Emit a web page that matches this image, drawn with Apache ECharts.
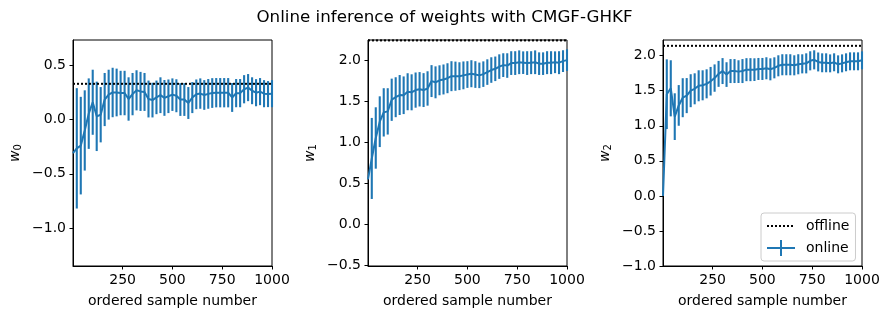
<!DOCTYPE html>
<html>
<head>
<meta charset="utf-8">
<script src="https://cdn.jsdelivr.net/npm/echarts@6/dist/echarts.min.js"></script>
<style>
  html, body { margin: 0; padding: 0; background: #fff; }
  #chart { width: 889px; height: 320px; }
</style>
</head>
<body>
<div id="chart"></div>
<script>
// 采样点（每20个样本一个误差棒）
const sampleNo = [20, 40, 60, 80, 100, 120, 140, 160, 180, 200,
  220, 240, 260, 280, 300, 320, 340, 360, 380, 400,
  420, 440, 460, 480, 500, 520, 540, 560, 580, 600,
  620, 640, 660, 680, 700, 720, 740, 760, 780, 800,
  820, 840, 860, 880, 900, 920, 940, 960, 980, 1000];

// 起点（第一个样本）
const firstSample = 1;
const startVals = [-0.31, 0.55, 0.0];

// w0
const w0Mean = [-0.265, -0.24, -0.10, 0.055, 0.16, 0.03, 0.045, 0.185, 0.23, 0.25,
  0.25, 0.245, 0.245, 0.19, 0.235, 0.27, 0.26, 0.255, 0.19, 0.18,
  0.205, 0.225, 0.20, 0.215, 0.23, 0.22, 0.185, 0.185, 0.153, 0.203,
  0.233, 0.24, 0.227, 0.237, 0.245, 0.248, 0.248, 0.248, 0.248, 0.204,
  0.244, 0.244, 0.28, 0.295, 0.266, 0.248, 0.258, 0.239, 0.235, 0.239];
const w0Err = [0.555, 0.45, 0.37, 0.325, 0.30, 0.32, 0.255, 0.245, 0.23, 0.228,
  0.22, 0.205, 0.205, 0.2, 0.195, 0.185, 0.18, 0.175, 0.17, 0.16,
  0.155, 0.165, 0.165, 0.155, 0.15, 0.152, 0.151, 0.151, 0.147, 0.143,
  0.137, 0.14, 0.137, 0.137, 0.137, 0.135, 0.135, 0.135, 0.135, 0.133,
  0.13, 0.13, 0.13, 0.125, 0.124, 0.125, 0.125, 0.125, 0.12, 0.125];

// w1
const w1Mean = [0.805, 1.055, 1.254, 1.368, 1.38, 1.522, 1.553, 1.58, 1.577, 1.62,
  1.613, 1.64, 1.65, 1.64, 1.66, 1.75, 1.735, 1.76, 1.77, 1.785,
  1.81, 1.81, 1.81, 1.82, 1.83, 1.84, 1.83, 1.82, 1.835, 1.86,
  1.885, 1.90, 1.927, 1.945, 1.94, 1.97, 1.97, 1.98, 1.975, 1.97,
  1.975, 1.98, 1.963, 1.963, 1.975, 1.975, 1.98, 1.975, 1.994, 2.006];
const w1Err = [0.495, 0.375, 0.31, 0.295, 0.283, 0.258, 0.244, 0.244, 0.23, 0.226,
  0.22, 0.215, 0.21, 0.207, 0.21, 0.195, 0.195, 0.183, 0.183, 0.183,
  0.183, 0.178, 0.17, 0.17, 0.163, 0.165, 0.163, 0.156, 0.156, 0.156,
  0.156, 0.15, 0.15, 0.145, 0.15, 0.145, 0.145, 0.145, 0.138, 0.145,
  0.14, 0.145, 0.138, 0.138, 0.14, 0.14, 0.133, 0.14, 0.133, 0.132];

// w2
const w2Mean = [1.45, 1.534, 1.13, 1.29, 1.40, 1.43, 1.50, 1.527, 1.57, 1.577,
  1.598, 1.635, 1.68, 1.74, 1.78, 1.73, 1.78, 1.78, 1.772, 1.78,
  1.80, 1.80, 1.80, 1.81, 1.81, 1.82, 1.805, 1.826, 1.855, 1.87,
  1.87, 1.87, 1.862, 1.877, 1.883, 1.89, 1.926, 1.94, 1.91, 1.898,
  1.898, 1.89, 1.905, 1.876, 1.89, 1.905, 1.919, 1.919, 1.919, 1.933];
const w2Err = [0.497, 0.4, 0.333, 0.29, 0.278, 0.25, 0.235, 0.221, 0.221, 0.214,
  0.207, 0.204, 0.195, 0.185, 0.185, 0.176, 0.171, 0.171, 0.162, 0.171,
  0.164, 0.164, 0.162, 0.157, 0.157, 0.157, 0.157, 0.15, 0.15, 0.15,
  0.15, 0.15, 0.143, 0.143, 0.136, 0.143, 0.136, 0.136, 0.135, 0.135,
  0.135, 0.128, 0.128, 0.128, 0.128, 0.128, 0.128, 0.128, 0.128, 0.128];

// 离线估计
const offlineVals = [0.33, 2.247, 2.14];

const xTicks = [250, 500, 750, 1000];
const yTicks = [
  [-1.0, -0.5, 0.0, 0.5],
  [-0.5, 0.0, 0.5, 1.0, 1.5, 2.0],
  [-1.0, -0.5, 0.0, 0.5, 1.0, 1.5, 2.0]
];
const yRanges = [[-1.35, 0.734], [-0.509, 2.252], [-1.0, 2.223]];
const gridLefts = [73, 368, 663];

const FONT = 'DejaVu Sans';
const BLUE = '#1f77b4';

const means = [w0Mean, w1Mean, w2Mean];
const errs = [w0Err, w1Err, w2Err];

const chart = echarts.init(document.getElementById('chart'), null, { renderer: 'canvas' });

const fmtY = v => (v < 0 ? '\u2212' : '') + Math.abs(v).toFixed(1);
const fmtX = v => String(Math.round(v));

const grids = [], xAxes = [], yAxes = [], series = [];
for (let i = 0; i < 3; i++) {
  grids.push({
    left: gridLefts[i], top: 40, width: 199, height: 226,
    show: true, borderColor: '#000', borderWidth: 1, backgroundColor: 'transparent'
  });
  xAxes.push({
    type: 'value', gridIndex: i, min: firstSample, max: 1000,
    name: 'ordered sample number', nameLocation: 'middle', nameGap: 28,
    nameTextStyle: { fontFamily: FONT, fontSize: 14, color: '#000' },
    axisLine: { show: true, onZero: false, lineStyle: { color: '#000', width: 1 } },
    axisTick: { show: true, length: 3.5, lineStyle: { color: '#000' }, customValues: xTicks },
    axisLabel: { fontFamily: FONT, fontSize: 14, color: '#000', margin: 7, customValues: xTicks, formatter: fmtX },
    splitLine: { show: false }
  });
  yAxes.push({
    type: 'value', gridIndex: i, min: yRanges[i][0], max: yRanges[i][1],
    name: '{i|w}{s|' + i + '}', nameLocation: 'middle', nameGap: 50, nameRotate: 90,
    nameTextStyle: {
      fontFamily: FONT, color: '#000',
      rich: {
        i: { fontFamily: FONT, fontSize: 14, fontStyle: 'italic', color: '#000' },
        s: { fontFamily: FONT, fontSize: 10, color: '#000', padding: [6, 0, 0, 0] }
      }
    },
    axisLine: { show: true, onZero: false, lineStyle: { color: '#000', width: 1 } },
    axisTick: { show: true, length: 3.5, lineStyle: { color: '#000' }, customValues: yTicks[i] },
    axisLabel: { fontFamily: FONT, fontSize: 14, color: '#000', margin: 7, customValues: yTicks[i], formatter: fmtY },
    splitLine: { show: false }
  });

  const m = means[i], e = errs[i];
  series.push({
    type: 'line', name: 'offline', xAxisIndex: i, yAxisIndex: i,
    data: [[firstSample, offlineVals[i]], [1000, offlineVals[i]]],
    symbol: 'none', color: '#000',
    lineStyle: { color: '#000', width: 2, type: [2, 2] },
    z: 3, silent: true
  });
  series.push({
    type: 'custom', name: 'online-err', xAxisIndex: i, yAxisIndex: i,
    data: sampleNo.map((x, k) => [x, m[k] - e[k], m[k] + e[k]]),
    encode: { x: 0, y: [1, 2] },
    renderItem: function (params, api) {
      const p1 = api.coord([api.value(0), api.value(1)]);
      const p2 = api.coord([api.value(0), api.value(2)]);
      return {
        type: 'line',
        shape: { x1: p1[0], y1: p1[1], x2: p2[0], y2: p2[1] },
        style: { stroke: BLUE, lineWidth: 2.1 }
      };
    },
    z: 2, silent: true
  });
  series.push({
    type: 'line', name: 'online', xAxisIndex: i, yAxisIndex: i,
    data: [[firstSample, startVals[i]]].concat(sampleNo.map((x, k) => [x, m[k]])),
    symbol: 'none', color: BLUE,
    lineStyle: { color: BLUE, width: 2 },
    z: 4, silent: true
  });
}

const dotIcon = 'path://M0,0 M28,16 M0,7h2v2h-2z M4,7h2v2h-2z M8,7h2v2h-2z M12,7h2v2h-2z M16,7h2v2h-2z M20,7h2v2h-2z M24,7h2v2h-2z';
const crossIcon = 'path://M0,0 M28,16 M0,7h28v2h-28z M13,0h2v16h-2z';

chart.setOption({
  animation: false,
  backgroundColor: '#fff',
  title: {
    text: 'Online inference of weights with CMGF-GHKF',
    left: 'center', top: 4,
    textStyle: { fontFamily: FONT, fontSize: 16.7, fontWeight: 'normal', color: '#000' }
  },
  legend: {
    orient: 'vertical', left: 761, top: 213,
    padding: [5, 6, 5, 6],
    itemWidth: 28, itemHeight: 16, itemGap: 6,
    borderColor: '#ccc', borderWidth: 1, borderRadius: 3,
    backgroundColor: 'rgba(255,255,255,0.8)',
    selectedMode: false,
    itemStyle: { borderWidth: 0 },
    textStyle: { fontFamily: FONT, fontSize: 14, color: '#000', padding: [0, 0, 0, 6] },
    data: [{ name: 'offline', icon: dotIcon }, { name: 'online', icon: crossIcon }]
  },
  grid: grids,
  xAxis: xAxes,
  yAxis: yAxes,
  series: series
});
</script>
</body>
</html>
